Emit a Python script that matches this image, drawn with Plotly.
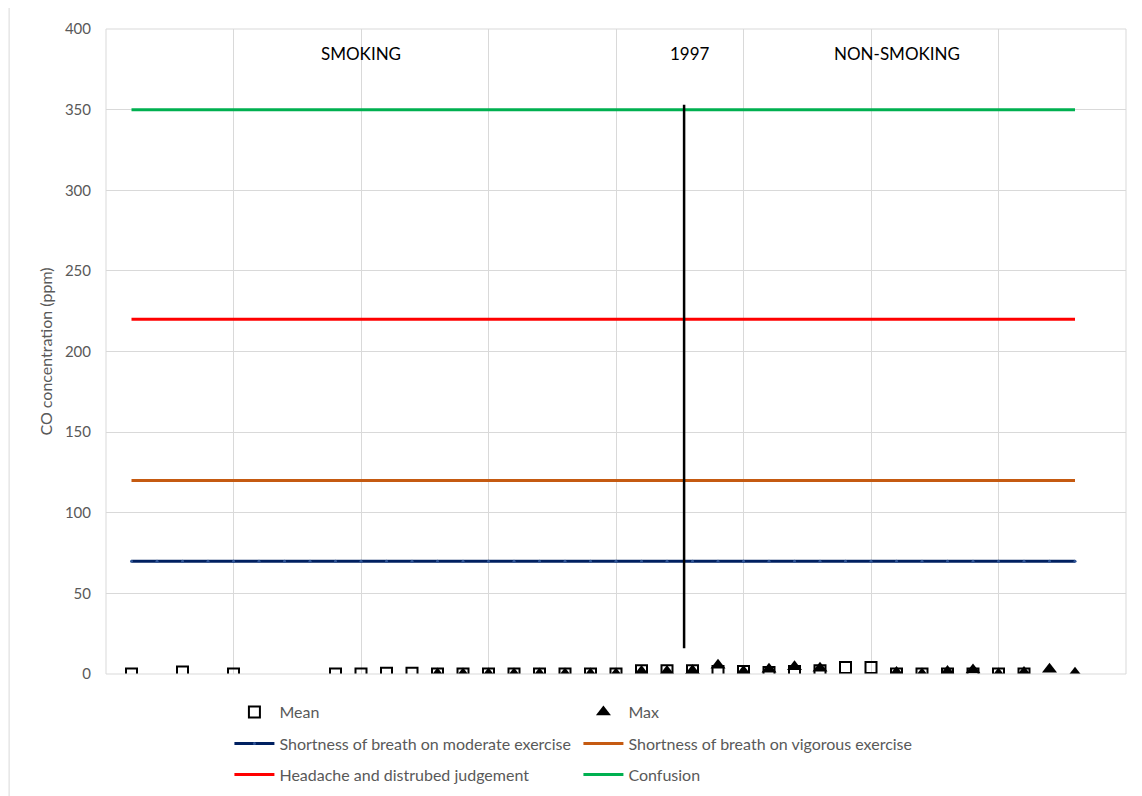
import plotly.graph_objects as go

# data
idx = list(range(1, 39))
mean = [0, None, 1.2, None, 0, None, None, None, 0, 0, 0.4, 0.4,
        0, 0, 0, 0, 0, 0, 0, 0, 2, 2, 2, 1.5, 1.5, 1, 1.5, 2, 4, 4,
        0, 0, 0, 0, 0, 0, None, None]
maxv = [None] * 12 + [0, 0, 0, 0, 0, 0, 0, 0, 1.5, 1.5, 2, 5.5, 1.5, 3, 4.5, 3.5,
                      None, None, 1, 0, 1.5, 2.5, 0, 1, 3, 0.5]

moderate = [70] * 38
vigorous = [120] * 38
headache = [220] * 38
confusion = [350] * 38

year_x = [22.67, 22.67]
year_y = [16, 353]

fnt = "Lato, 'Open Sans', sans-serif"
fig = go.Figure()

fig.add_trace(go.Scatter(x=idx, y=moderate, mode="lines+markers", name="Shortness of breath on moderate exercise",
                         line=dict(color="#002060", width=3), marker=dict(size=3, color="#2f5597"),
                         legend="legend2"))
fig.add_trace(go.Scatter(x=idx, y=vigorous, mode="lines", name="Shortness of breath on vigorous exercise",
                         line=dict(color="#C55A11", width=3), legend="legend2"))
fig.add_trace(go.Scatter(x=idx, y=headache, mode="lines", name="Headache and distrubed judgement",
                         line=dict(color="#FF0000", width=3), legend="legend3"))
fig.add_trace(go.Scatter(x=idx, y=confusion, mode="lines", name="Confusion",
                         line=dict(color="#00B050", width=3), legend="legend3"))
fig.add_trace(go.Scatter(x=year_x, y=year_y, mode="lines", showlegend=False,
                         line=dict(color="black", width=2.5)))
fig.add_trace(go.Scatter(x=idx, y=mean, mode="markers", name="Mean",
                         marker=dict(symbol="square-open", size=11, color="black", line=dict(width=2))))
fig.add_trace(go.Scatter(x=idx, y=maxv, mode="markers", name="Max",
                         marker=dict(symbol="triangle-up", size=13, color="black")))

fig.add_annotation(x=10, y=385, text="SMOKING", showarrow=False, font=dict(size=17, color="black"))
fig.add_annotation(x=22.9, y=385, text="1997", showarrow=False, font=dict(size=17, color="black"))
fig.add_annotation(x=31, y=385, text="NON-SMOKING", showarrow=False, font=dict(size=17, color="black"))

leg = dict(orientation="h", xanchor="left", yanchor="middle", entrywidth=294, entrywidthmode="pixels",
           font=dict(size=16, color="#595959"), bgcolor="rgba(0,0,0,0)", itemwidth=40)
# page body has an 8px margin, so the figure is shrunk and shifted to match
fig.update_layout(
    width=1134, height=788,
    margin=dict(l=98, r=15.5, t=21, b=122, autoexpand=False),
    paper_bgcolor="white", plot_bgcolor="white",
    font=dict(family=fnt, color="#595959"),
    legend=dict(leg, x=0.121, y=-0.059),
    legend2=dict(leg, x=0.121, y=-0.108),
    legend3=dict(leg, x=0.121, y=-0.156),
    xaxis=dict(range=[0, 40], dtick=5, tick0=0, showticklabels=False, showgrid=True,
               gridcolor="#d9d9d9", gridwidth=1, zeroline=False, showline=False),
    yaxis=dict(range=[0, 400], dtick=50, showgrid=True, gridcolor="#d9d9d9", gridwidth=1,
               zeroline=False, showline=False, ticks="", ticklabelstandoff=14,
               tickfont=dict(size=15, color="#595959"),
               title=dict(text="CO concentration (ppm)", font=dict(size=16, color="#595959"), standoff=8)),
    shapes=[
        dict(type="rect", xref="paper", yref="paper", x0=0, x1=1, y0=0, y1=1,
             line=dict(color="#d9d9d9", width=1)),
        dict(type="line", xref="paper", yref="paper", x0=-0.095, x1=1.02, y0=1.034, y1=1.034,
             line=dict(color="#d9d9d9", width=1)),
        dict(type="line", xref="paper", yref="paper", x0=-0.095, x1=-0.095, y0=1.034, y1=-0.2,
             line=dict(color="#d9d9d9", width=1)),
    ],
)

fig.write_html("out.html")
